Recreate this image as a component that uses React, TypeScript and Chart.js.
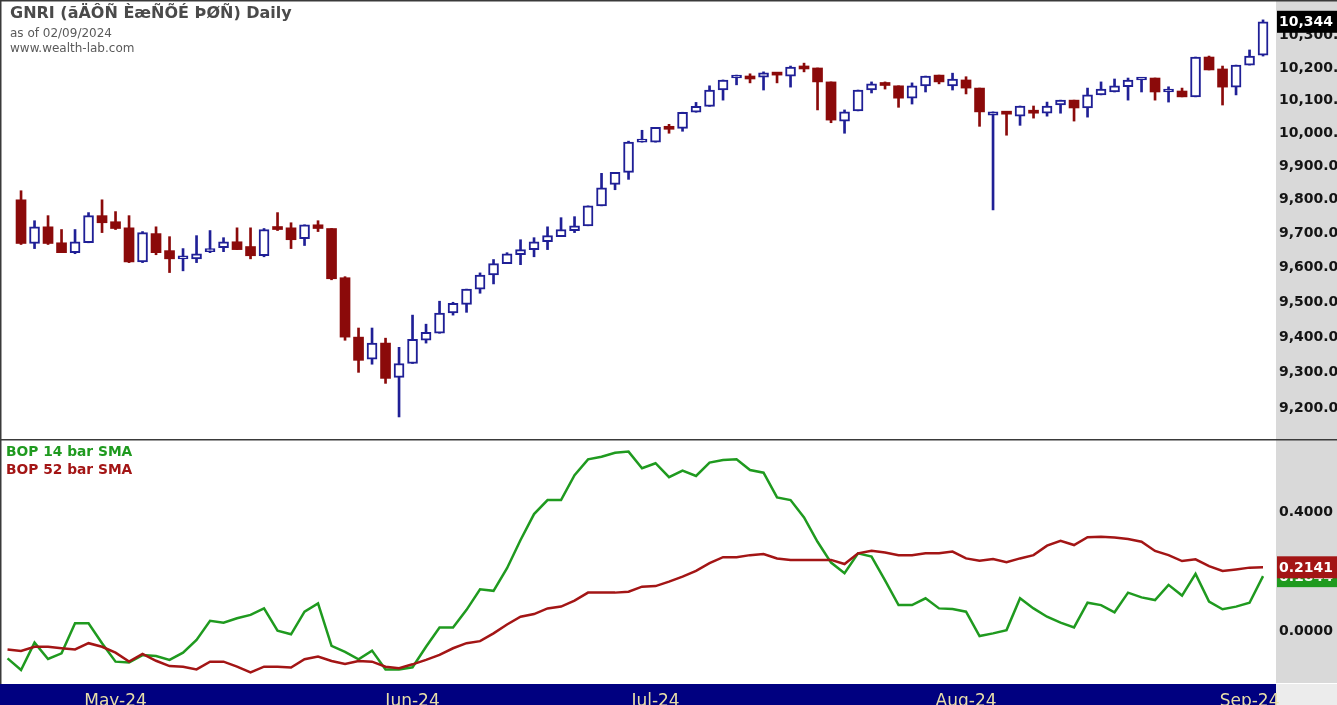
import React, { useEffect, useRef } from 'react';
import { Chart, registerables } from 'chart.js';

Chart.register(...registerables);

// ---- Data ----
const titleText = 'GNRI (ãÄÔÑ ÈæÑÕÉ ÞØÑ) Daily';
const asOfText = 'as of 02/09/2024';
const siteText = 'www.wealth-lab.com';
const legend14 = 'BOP 14 bar SMA';
const legend52 = 'BOP 52 bar SMA';

const opens = [
  9800, 9671, 9720, 9673, 9644, 9673, 9753, 9735, 9717, 9617,
  9700, 9650, 9626, 9626, 9647, 9659, 9676, 9662, 9635, 9720,
  9717, 9685, 9726, 9715, 9571, 9400, 9337, 9383, 9286, 9325,
  9391, 9411, 9469, 9494, 9538, 9579, 9612, 9638, 9653, 9676,
  9691, 9709, 9723, 9782, 9846, 9882, 9973, 9973, 10015, 10015,
  10064, 10082, 10132, 10169, 10169, 10172, 10184, 10175, 10200, 10200,
  10157, 10037, 10068, 10132, 10148, 10145, 10107, 10145, 10178, 10145,
  10163, 10138, 10055, 10061, 10052, 10065, 10061, 10086, 10101, 10077,
  10117, 10126, 10142, 10163, 10169, 10126, 10129, 10111, 10234, 10197,
  10141, 10209, 10240,
];
const highs = [
  9827, 9738, 9753, 9712, 9712, 9762, 9800, 9765, 9753, 9706,
  9720, 9691, 9656, 9694, 9709, 9688, 9717, 9717, 9715, 9762,
  9732, 9726, 9738, 9715, 9574, 9426, 9426, 9397, 9371, 9463,
  9437, 9503, 9500, 9538, 9585, 9624, 9644, 9682, 9688, 9720,
  9747, 9750, 9782, 9879, 9882, 9976, 10009, 10018, 10027, 10064,
  10094, 10145, 10163, 10178, 10182, 10188, 10184, 10206, 10215, 10200,
  10157, 10071, 10132, 10157, 10157, 10145, 10154, 10175, 10178, 10184,
  10173, 10138, 10065, 10061, 10083, 10083, 10095, 10101, 10101, 10138,
  10157, 10166, 10169, 10166, 10169, 10142, 10138, 10234, 10237, 10206,
  10209, 10256, 10350,
];
const lows = [
  9668, 9656, 9668, 9644, 9641, 9673, 9703, 9712, 9615, 9615,
  9638, 9586, 9591, 9615, 9644, 9647, 9653, 9626, 9632, 9709,
  9656, 9665, 9706, 9565, 9391, 9300, 9323, 9269, 9175, 9325,
  9383, 9411, 9463, 9471, 9526, 9553, 9612, 9609, 9632, 9653,
  9691, 9703, 9723, 9782, 9830, 9861, 9973, 9973, 10000, 10006,
  10064, 10082, 10101, 10148, 10154, 10132, 10154, 10141, 10188, 10071,
  10032, 10000, 10068, 10123, 10135, 10079, 10089, 10126, 10151, 10132,
  10120, 10021, 9770, 9994, 10024, 10046, 10052, 10061, 10037, 10049,
  10117, 10126, 10101, 10126, 10101, 10095, 10111, 10111, 10194, 10086,
  10117, 10209, 10237,
];
const closes = [
  9671, 9720, 9671, 9644, 9676, 9753, 9732, 9715, 9617, 9703,
  9644, 9626, 9632, 9641, 9653, 9676, 9653, 9635, 9712, 9712,
  9682, 9726, 9715, 9568, 9400, 9334, 9383, 9283, 9325, 9394,
  9414, 9469, 9497, 9538, 9579, 9612, 9641, 9653, 9676, 9694,
  9712, 9723, 9782, 9836, 9882, 9973, 9976, 10018, 10012, 10064,
  10082, 10132, 10163, 10172, 10166, 10185, 10178, 10203, 10197, 10157,
  10040, 10065, 10132, 10151, 10146, 10107, 10145, 10175, 10157, 10166,
  10138, 10065, 10065, 10058, 10083, 10061, 10083, 10101, 10077, 10117,
  10135, 10145, 10163, 10166, 10126, 10129, 10111, 10234, 10194, 10141,
  10209, 10237, 10344,
];

// Indicator values start one bar before the first visible candle
const bop14 = [
  -0.092,
  -0.131, -0.039, -0.094, -0.075, 0.026, 0.026, -0.041, -0.103, -0.106, -0.081,
  -0.084, -0.097, -0.073, -0.030, 0.034, 0.028, 0.043, 0.054, 0.076, 0.001,
  -0.011, 0.065, 0.093, -0.050, -0.070, -0.095, -0.066, -0.129, -0.129, -0.122,
  -0.053, 0.012, 0.012, 0.071, 0.140, 0.135, 0.211, 0.306, 0.393, 0.440,
  0.440, 0.524, 0.577, 0.586, 0.599, 0.603, 0.547, 0.564, 0.517, 0.539,
  0.521, 0.566, 0.575, 0.577, 0.541, 0.532, 0.449, 0.440, 0.382, 0.300,
  0.230, 0.194, 0.261, 0.250, 0.170, 0.087, 0.087, 0.110, 0.076, 0.074,
  0.065, -0.017, -0.008, 0.003, 0.110, 0.076, 0.048, 0.028, 0.012, 0.095,
  0.087, 0.063, 0.129, 0.113, 0.104, 0.155, 0.119, 0.192, 0.099, 0.073,
  0.082, 0.095, 0.1844,
];
const bop52 = [
  -0.062,
  -0.067, -0.053, -0.053, -0.058, -0.062, -0.041, -0.053, -0.073, -0.103, -0.077,
  -0.100, -0.118, -0.120, -0.129, -0.103, -0.103, -0.120, -0.139, -0.120, -0.120,
  -0.123, -0.095, -0.086, -0.101, -0.111, -0.101, -0.103, -0.120, -0.125, -0.112,
  -0.097, -0.080, -0.058, -0.041, -0.034, -0.008, 0.022, 0.048, 0.057, 0.076,
  0.082, 0.102, 0.129, 0.129, 0.129, 0.132, 0.149, 0.151, 0.166, 0.183,
  0.202, 0.228, 0.248, 0.248, 0.255, 0.259, 0.244, 0.239, 0.239, 0.239,
  0.239, 0.225, 0.261, 0.270, 0.264, 0.255, 0.255, 0.261, 0.261, 0.267,
  0.244, 0.236, 0.242, 0.231, 0.244, 0.255, 0.287, 0.303, 0.289, 0.315,
  0.317, 0.314, 0.309, 0.300, 0.269, 0.255, 0.235, 0.241, 0.218, 0.202,
  0.207, 0.213, 0.2141,
];

const priceTicks = [9200, 9300, 9400, 9500, 9600, 9700, 9800, 9900, 10000, 10100, 10200, 10300];
const bopTicks = [0, 0.4];
const monthTickIdx = [7, 29, 47, 70, 91];
const monthTickLabels = ['May-24', 'Jun-24', 'Jul-24', 'Aug-24', 'Sep-24'];

// ---- Styles ----
const W = 1337;
const H = 705;
const UP = '#1f1f96';
const DOWN = '#8b0a0a';
const GREEN = '#1f9a1f';
const RED = '#a31515';
const FONT = "'DejaVu Sans', Verdana, sans-serif";

const fmtPrice = (v: number) =>
  v.toLocaleString('en-US', { minimumFractionDigits: 2, maximumFractionDigits: 2 });

function drawTag(ctx: CanvasRenderingContext2D, x: number, w: number, y: number, bg: string, text: string) {
  ctx.fillStyle = bg;
  ctx.fillRect(x, y - 11, w, 22);
  ctx.fillStyle = '#ffffff';
  ctx.font = `bold 14px ${FONT}`;
  ctx.textBaseline = 'middle';
  ctx.textAlign = 'left';
  ctx.fillText(text, x + 2, y + 1);
}

const noPad = (s: any) => {
  s.paddingTop = 0;
  s.paddingBottom = 0;
  s.paddingLeft = 0;
  s.paddingRight = 0;
};

const decorPlugin = {
  id: 'decor',
  beforeDraw(chart: any) {
    const { ctx, chartArea } = chart;
    const w = chart.width;
    const h = chart.height;
    ctx.save();
    ctx.fillStyle = '#d9d9d9';
    ctx.fillRect(chartArea.right, 0, w - chartArea.right, chartArea.bottom);
    ctx.fillStyle = '#000080';
    ctx.fillRect(0, chartArea.bottom + 1, chartArea.right, h - chartArea.bottom - 1);
    ctx.fillStyle = '#ececec';
    ctx.fillRect(chartArea.right, chartArea.bottom + 1, w - chartArea.right, h - chartArea.bottom - 1);
    ctx.restore();
  },
  afterDraw(chart: any) {
    const { ctx, chartArea } = chart;
    const w = chart.width;
    const ys = chart.scales.y;
    const y2 = chart.scales.y2;
    ctx.save();
    ctx.fillStyle = '#3a3a3a';
    ctx.fillRect(0, 0, w, 1.5);
    ctx.fillRect(0, 0, 1.5, chartArea.bottom + 1);
    ctx.fillRect(0, ys.bottom, w, 1.5);
    const tx = chartArea.right + 1;
    const tw = w - tx;
    drawTag(ctx, tx, tw, ys.getPixelForValue(closes[closes.length - 1]), '#000000',
      closes[closes.length - 1].toLocaleString('en-US'));
    drawTag(ctx, tx, tw, y2.getPixelForValue(bop14[bop14.length - 1]), GREEN,
      bop14[bop14.length - 1].toFixed(4));
    drawTag(ctx, tx, tw, y2.getPixelForValue(bop52[bop52.length - 1]), RED,
      bop52[bop52.length - 1].toFixed(4));
    ctx.restore();
  },
};

export default function App() {
  const canvasRef = useRef<HTMLCanvasElement | null>(null);

  useEffect(() => {
    if (!canvasRef.current) return;
    const isUp = closes.map((c, i) => c >= opens[i]);
    const wickData = highs.map((hv, i) => ({ x: i, y: [lows[i], hv] }));
    const bodyData = opens.map((o, i) => ({ x: i, y: [o, closes[i]] }));
    const line14 = bop14.map((v, i) => ({ x: i - 1, y: v }));
    const line52 = bop52.map((v, i) => ({ x: i - 1, y: v }));

    const chart = new Chart(canvasRef.current, {
      type: 'bar',
      data: {
        datasets: [
          {
            type: 'bar',
            data: wickData as any,
            yAxisID: 'y',
            backgroundColor: isUp.map((u) => (u ? UP : DOWN)),
            borderWidth: 0,
            barThickness: 2,
            grouped: false,
            order: 3,
          } as any,
          {
            type: 'bar',
            data: bodyData as any,
            yAxisID: 'y',
            backgroundColor: isUp.map((u) => (u ? '#ffffff' : DOWN)),
            borderColor: isUp.map((u) => (u ? UP : DOWN)),
            borderWidth: isUp.map((u) => (u ? 2 : 0)),
            borderSkipped: false,
            barThickness: 10,
            minBarLength: 3,
            grouped: false,
            order: 2,
          } as any,
          {
            type: 'line',
            data: line14 as any,
            yAxisID: 'y2',
            borderColor: GREEN,
            borderWidth: 2.5,
            pointRadius: 0,
            tension: 0,
            order: 1,
          } as any,
          {
            type: 'line',
            data: line52 as any,
            yAxisID: 'y2',
            borderColor: RED,
            borderWidth: 2.5,
            pointRadius: 0,
            tension: 0,
            order: 0,
          } as any,
        ],
      },
      options: {
        responsive: false,
        animation: false,
        events: [],
        layout: { padding: { top: 1, left: 2, right: 0, bottom: 0 } },
        plugins: { legend: { display: false }, tooltip: { enabled: false } },
        scales: {
          x: {
            type: 'linear',
            position: 'bottom',
            offset: false,
            bounds: 'data',
            min: -1.41,
            max: 92.96,
            grid: { display: false, drawTicks: false, offset: false },
            border: { display: false },
            afterBuildTicks: (s: any) => {
              s.ticks = monthTickIdx.map((v) => ({ value: v }));
            },
            afterFit: (s: any) => {
              s.height = 22;
              noPad(s);
            },
            ticks: {
              autoSkip: false,
              maxRotation: 0,
              padding: 8,
              color: '#e8dfa8',
              font: { family: FONT, size: 17 },
              callback: (v: any) => {
                const k = monthTickIdx.indexOf(Number(v));
                return k >= 0 ? monthTickLabels[k] : '';
              },
            },
          },
          y: {
            type: 'logarithmic',
            position: 'right',
            stack: 'panes',
            stackWeight: 438,
            weight: 1,
            min: 9113.8,
            max: 10409.5,
            grid: { display: false, drawTicks: false },
            border: { display: false },
            afterBuildTicks: (s: any) => {
              s.ticks = priceTicks.map((v) => ({ value: v }));
            },
            afterFit: (s: any) => {
              s.width = 61;
              noPad(s);
            },
            ticks: {
              autoSkip: false,
              padding: 3,
              color: '#141414',
              font: { family: FONT, size: 14, weight: 'bold' },
              callback: (v: any) => fmtPrice(Number(v)),
            },
          },
          y2: {
            type: 'linear',
            position: 'right',
            stack: 'panes',
            stackWeight: 244,
            weight: 2,
            min: -0.1748,
            max: 0.6454,
            grid: { display: false, drawTicks: false },
            border: { display: false },
            afterBuildTicks: (s: any) => {
              s.ticks = bopTicks.map((v) => ({ value: v }));
            },
            afterFit: (s: any) => {
              s.width = 61;
              noPad(s);
            },
            ticks: {
              autoSkip: false,
              padding: 3,
              color: '#141414',
              font: { family: FONT, size: 14, weight: 'bold' },
              callback: (v: any) => Number(v).toFixed(4),
            },
          },
        } as any,
      },
      plugins: [decorPlugin as any],
    });
    return () => chart.destroy();
  }, []);

  const txt = (top: number, left: number, size: number, color: string, bold: boolean, text: string) => (
    <div
      style={{
        position: 'absolute',
        top,
        left,
        fontFamily: FONT,
        fontSize: size,
        lineHeight: `${Math.round(size + 3)}px`,
        fontWeight: bold ? 'bold' : 'normal',
        color,
        whiteSpace: 'nowrap',
        pointerEvents: 'none',
      }}
    >
      {text}
    </div>
  );

  return (
    <div style={{ position: 'absolute', left: 0, top: 0, width: W, height: H, background: '#ffffff', overflow: 'hidden' }}>
      <canvas ref={canvasRef} width={W} height={H} style={{ display: 'block', width: W, height: H }} />
      {txt(3, 10, 16, '#4a4a4a', true, titleText)}
      {txt(26, 10, 12, '#5a5a5a', false, asOfText)}
      {txt(41, 10, 12, '#5a5a5a', false, siteText)}
      {txt(443, 6, 13.8, GREEN, true, legend14)}
      {txt(461, 6, 13.8, RED, true, legend52)}
    </div>
  );
}
